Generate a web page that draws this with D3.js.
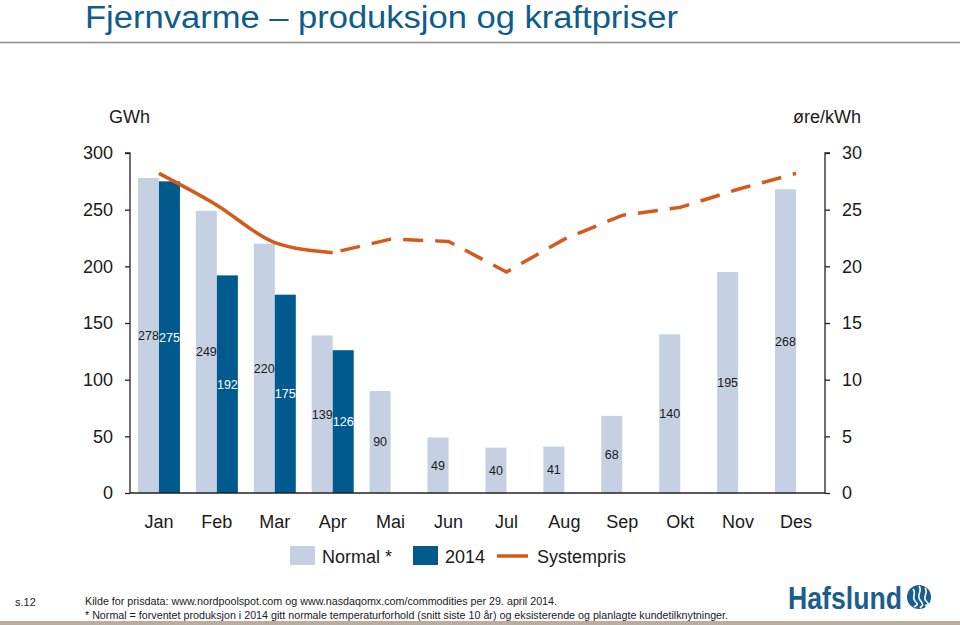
<!DOCTYPE html>
<html>
<head>
<meta charset="utf-8">
<script src="https://cdn.jsdelivr.net/npm/d3@7"></script>
<style>
  html, body { margin: 0; padding: 0; background: #fff; }
  svg { display: block; font-family: "Liberation Sans", Arial, sans-serif; }
</style>
</head>
<body>
<svg id="chart" width="960" height="625"></svg>
<script>
// ---- data ----
const months = ["Jan","Feb","Mar","Apr","Mai","Jun","Jul","Aug","Sep","Okt","Nov","Des"];
const normalValues = [278,249,220,139,90,49,40,41,68,140,195,268];
const actual2014 = [275,192,175,126,null,null,null,null,null,null,null,null];
const systemPrice = [28.2,25.4,22.1,21.2,22.4,22.2,19.5,22.4,24.5,25.2,26.8,28.2];
const actualPriceMonths = 4; // Jan–Apr actual (solid), rest forward (dashed)
const leftTicks = [0,50,100,150,200,250,300];
const rightTicks = [0,5,10,15,20,25,30];

const colNormal = "#c5d0e2";
const col2014 = "#015a8e";
const colLine = "#d5591b";
const colText = "#1a1a1a";

const svg = d3.select("#chart");

// Title
svg.append("text").attr("x", 85).attr("y", 28)
  .attr("font-family", "'Liberation Sans Narrow','Arial Narrow','Liberation Sans',sans-serif")
  .attr("font-size", 31).attr("fill", "#0e5c8c")
  .attr("textLength", 593).attr("lengthAdjust", "spacingAndGlyphs")
  .text("Fjernvarme – produksjon og kraftpriser");
svg.append("line").attr("x1", 0).attr("x2", 960).attr("y1", 42.5).attr("y2", 42.5)
  .attr("stroke", "#8c8c8c").attr("stroke-width", 1.5);

// Scales
const x = d3.scaleBand().domain(months).range([130, 825]).paddingInner(0).paddingOuter(0);
const yL = d3.scaleLinear().domain([0, 300]).range([493, 153]);
const yR = d3.scaleLinear().domain([0, 30]).range([493, 153]);
const barW = 21;

// Axes
const axL = svg.append("g").attr("transform", "translate(130,0)")
  .call(d3.axisLeft(yL).tickValues(leftTicks).tickSize(5).tickPadding(12));
const axR = svg.append("g").attr("transform", "translate(825,0)")
  .call(d3.axisRight(yR).tickValues(rightTicks).tickSize(5).tickPadding(12));
[axL, axR].forEach(a => {
  a.select(".domain").attr("stroke", "#222").attr("stroke-width", 1.3);
  a.selectAll(".tick line").attr("stroke", "#222").attr("stroke-width", 1.3);
  a.selectAll(".tick text").attr("font-size", 18).attr("fill", colText)
    .attr("font-family", "'Liberation Sans', Arial, sans-serif");
});
axL.select(".domain").attr("d", "M-5,153H0V493");
axR.select(".domain").attr("d", "M5,153H0V493");

// bars
const gBars = svg.append("g");
gBars.selectAll("rect.normal").data(months).join("rect")
  .attr("class", "normal")
  .attr("x", d => x(d) + x.bandwidth()/2 - barW)
  .attr("width", barW)
  .attr("y", (d,i) => yL(normalValues[i]))
  .attr("height", (d,i) => yL(0) - yL(normalValues[i]))
  .attr("fill", colNormal);
gBars.selectAll("rect.y2014").data(months.filter((d,i) => actual2014[i] != null)).join("rect")
  .attr("class", "y2014")
  .attr("x", d => x(d) + x.bandwidth()/2)
  .attr("width", barW)
  .attr("y", (d,i) => yL(actual2014[i]))
  .attr("height", (d,i) => yL(0) - yL(actual2014[i]))
  .attr("fill", col2014);

// baseline
svg.append("line").attr("x1", 130).attr("x2", 825).attr("y1", yL(0)).attr("y2", yL(0))
  .attr("stroke", "#222").attr("stroke-width", 1.3);

// bar labels
gBars.selectAll("text.nl").data(months).join("text")
  .attr("class", "nl")
  .attr("x", d => x(d) + x.bandwidth()/2 - barW/2)
  .attr("y", (d,i) => yL(normalValues[i]/2))
  .attr("dy", "0.35em").attr("text-anchor", "middle")
  .attr("font-size", 12.5).attr("fill", colText)
  .text((d,i) => normalValues[i]);
gBars.selectAll("text.al").data(months.filter((d,i) => actual2014[i] != null)).join("text")
  .attr("class", "al")
  .attr("x", d => x(d) + x.bandwidth()/2 + barW/2)
  .attr("y", (d,i) => yL(actual2014[i]/2))
  .attr("dy", "0.35em").attr("text-anchor", "middle")
  .attr("font-size", 12.5).attr("fill", "#ffffff")
  .text((d,i) => actual2014[i]);

// category labels
svg.append("g").selectAll("text").data(months).join("text")
  .attr("x", d => x(d) + x.bandwidth()/2)
  .attr("y", 528).attr("text-anchor", "middle")
  .attr("font-size", 18).attr("fill", colText)
  .text(d => d);

// price line
const pts = systemPrice.map((v,i) => [x(months[i]) + x.bandwidth()/2, yR(v)]);
const solidPts = pts.slice(0, actualPriceMonths);
const dashPts = pts.slice(actualPriceMonths - 1);
svg.append("path").attr("d", d3.line().curve(d3.curveMonotoneX)(solidPts))
  .attr("fill", "none").attr("stroke", colLine).attr("stroke-width", 3.5);
svg.append("path").attr("d", d3.line()(dashPts))
  .attr("fill", "none").attr("stroke", colLine).attr("stroke-width", 3.5)
  .attr("stroke-dasharray", "20,12").attr("stroke-dashoffset", -8);

// unit labels
svg.append("text").attr("x", 109).attr("y", 123).attr("font-size", 18).attr("fill", colText).text("GWh");
svg.append("text").attr("x", 861).attr("y", 123).attr("text-anchor", "end").attr("font-size", 18).attr("fill", colText).text("øre/kWh");

// legend
const lg = svg.append("g");
lg.append("rect").attr("x", 290).attr("y", 546).attr("width", 25).attr("height", 19).attr("fill", colNormal);
lg.append("text").attr("x", 322).attr("y", 563).attr("font-size", 18).attr("fill", colText).text("Normal *");
lg.append("rect").attr("x", 413).attr("y", 546).attr("width", 25).attr("height", 19).attr("fill", col2014);
lg.append("text").attr("x", 445).attr("y", 563).attr("font-size", 18).attr("fill", colText).text("2014");
lg.append("line").attr("x1", 497).attr("x2", 528).attr("y1", 556).attr("y2", 556).attr("stroke", colLine).attr("stroke-width", 3.5);
lg.append("text").attr("x", 537).attr("y", 563).attr("font-size", 18).attr("fill", colText).text("Systempris");

// footer
const narrow = "'Liberation Sans Narrow','Arial Narrow','Liberation Sans',sans-serif";
svg.append("text").attr("x", 15).attr("y", 606).attr("font-size", 11).attr("fill", colText)
  .attr("font-family", narrow).text("s.12");
svg.append("text").attr("x", 85).attr("y", 605).attr("font-size", 11.5).attr("fill", colText)
  .attr("font-family", narrow).attr("textLength", 472).attr("lengthAdjust", "spacingAndGlyphs")
  .text("Kilde for prisdata: www.nordpoolspot.com og www.nasdaqomx.com/commodities per 29. april 2014.");
svg.append("text").attr("x", 85).attr("y", 619).attr("font-size", 11.5).attr("fill", colText)
  .attr("font-family", narrow).attr("textLength", 643).attr("lengthAdjust", "spacingAndGlyphs")
  .text("* Normal = forventet produksjon i 2014 gitt normale temperaturforhold (snitt siste 10 år) og eksisterende og planlagte kundetilknytninger.");

// bottom band
svg.append("rect").attr("x", 0).attr("y", 621).attr("width", 960).attr("height", 4).attr("fill", "#b8ad9e");

// logo
svg.append("text").attr("x", 788).attr("y", 609).attr("font-size", 31).attr("font-weight", "bold")
  .attr("fill", "#1b5e8e").attr("textLength", 114).attr("lengthAdjust", "spacingAndGlyphs")
  .text("Hafslund");
const lc = svg.append("g").attr("transform", "translate(919,597)");
lc.append("circle").attr("r", 12).attr("fill", "#1b5e8e");
lc.append("path").attr("d", "M-6,-8 C-2,-4 -8,0 -4,4 S-2,8 -5,10").attr("fill", "none").attr("stroke", "#fff").attr("stroke-width", 1.6);
lc.append("path").attr("d", "M0,-11 C4,-6 -3,-2 1,3 S4,8 1,11").attr("fill", "none").attr("stroke", "#fff").attr("stroke-width", 1.6);
lc.append("path").attr("d", "M6,-9 C10,-4 3,0 7,4 S9,7 6,9").attr("fill", "none").attr("stroke", "#fff").attr("stroke-width", 1.6);
</script>
</body>
</html>
